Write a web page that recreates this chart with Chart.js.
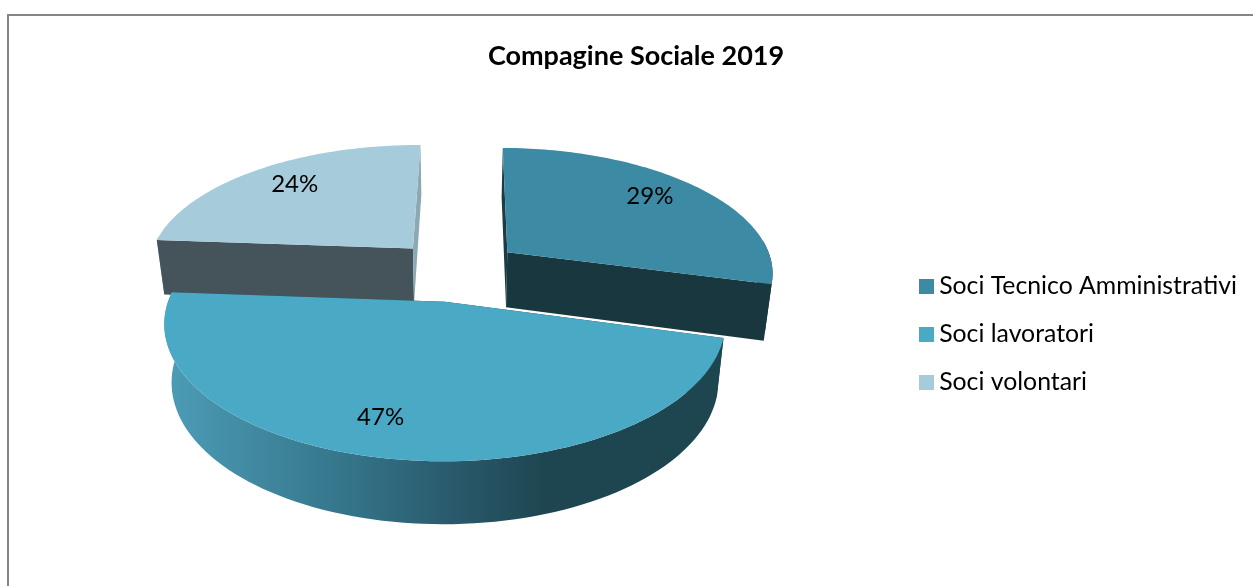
<!DOCTYPE html>
<html>
<head>
<meta charset="utf-8">
<title>Compagine Sociale 2019</title>
<script src="https://cdn.jsdelivr.net/npm/chart.js@4/dist/chart.umd.js"></script>
<style>
html, body { margin: 0; padding: 0; background: #fff; overflow: hidden; width: 1253px; height: 586px; }
#frame { position: absolute; left: 7px; top: 14px; width: 1300px; height: 600px; border-left: 2px solid #868686; border-top: 2px solid #868686; }
#mycanvas { position: absolute; left: 9px; top: 16px; }
</style>
</head>
<body>
<div id="frame"></div>
<canvas id="mycanvas" width="1254" height="570"></canvas>
<script>
var categories = ["Soci Tecnico Amministrativi", "Soci lavoratori", "Soci volontari"];
var values = [29, 47, 24];
var chartTitle = "Compagine Sociale 2019";

var topColors = ["#3c8aa4", "#4aa9c5", "#a6cbda"];
var wallColors = [["#1b3c46", "#18373f"], ["#1e4650", "#1e4650"], ["#45535b", "#8ba8b3"]];
var FONT = "Lato, 'Open Sans', sans-serif";

// little squares for the legend, the built in ones leave too wide a gap to the text
function swatch(color) {
	var c = document.createElement("canvas");
	c.width = 15;
	c.height = 15;
	var g = c.getContext("2d");
	g.fillStyle = color;
	g.fillRect(0, 0, 15, 15);
	return c;
}

// tilted, extruded pie: takes the arcs the doughnut controller laid out and
// projects them on to a plane seen from above
var pie3d = {
	id: "pie3d",
	beforeDatasetsDraw: function(chart, args, opts) {
		var ctx = chart.ctx;
		var arcs = chart.getDatasetMeta(0).data;

		function point(arc, angle, frac, z) {
			var r = arc.outerRadius;
			var mid = (arc.startAngle + arc.endAngle) / 2;
			var off = arc.options.offset;
			var u = (r * frac * Math.cos(angle) + off * Math.cos(mid)) / r;
			var v = (r * frac * Math.sin(angle) + off * Math.sin(mid)) / r;
			var s = 1 / (1 - opts.persp * v);
			var k = 1 - opts.shrink * z;
			return {
				x: arc.x + opts.slide + opts.rx * u * s * k,
				y: arc.y + opts.lift + opts.ry * v * s + z * opts.depth * (1 + opts.depthGrow * v)
			};
		}

		function rimPath(arc, from, to, z, reverse) {
			var n = 90;
			for (var i = 0; i <= n; i++) {
				var t = reverse ? 1 - i / n : i / n;
				var p = point(arc, from + (to - from) * t, 1, z);
				ctx.lineTo(p.x, p.y);
			}
		}

		function wall(arc, angle, color) {
			var a = point(arc, angle, 0, 0), b = point(arc, angle, 1, 0);
			var c = point(arc, angle, 1, 1), d = point(arc, angle, 0, 1);
			ctx.beginPath();
			ctx.moveTo(a.x, a.y);
			ctx.lineTo(b.x, b.y);
			ctx.lineTo(c.x, c.y);
			ctx.lineTo(d.x, d.y);
			ctx.closePath();
			ctx.fillStyle = color;
			ctx.fill();
		}

		// back slices first so the big front one sits over them
		var order = arcs.map(function(a, i) { return i; });
		order.sort(function(i, j) {
			return Math.sin((arcs[i].startAngle + arcs[i].endAngle) / 2) - Math.sin((arcs[j].startAngle + arcs[j].endAngle) / 2);
		});

		order.forEach(function(i) {
			var arc = arcs[i];

			// outer rim, only the part that faces the viewer, shaded left to right
			var from = Math.max(arc.startAngle, -0.1), to = Math.min(arc.endAngle, Math.PI + 0.1);
			if (to > from) {
				var left = point(arc, Math.PI, 1, 0).x, right = point(arc, 0, 1, 0).x;
				var grad = ctx.createLinearGradient(left, 0, right, 0);
				if (i === 1) {
					grad.addColorStop(0, "#4c9cb6");
					grad.addColorStop(0.33, "#347489");
					grad.addColorStop(0.52, "#29596b");
					grad.addColorStop(0.68, "#1e4651");
					grad.addColorStop(1, "#1e4650");
				} else {
					grad.addColorStop(0, wallColors[i][1]);
					grad.addColorStop(1, wallColors[i][1]);
				}
				var s = point(arc, from, 1, 0);
				ctx.beginPath();
				ctx.moveTo(s.x, s.y);
				rimPath(arc, from, to, 0, false);
				rimPath(arc, from, to, 1, true);
				ctx.closePath();
				ctx.fillStyle = grad;
				ctx.fill();
			}

			wall(arc, arc.startAngle, wallColors[i][0]);
			wall(arc, arc.endAngle, wallColors[i][1]);

			// top face
			var a = point(arc, arc.startAngle, 0, 0);
			ctx.beginPath();
			ctx.moveTo(a.x, a.y);
			rimPath(arc, arc.startAngle, arc.endAngle, 0, false);
			ctx.closePath();
			ctx.fillStyle = topColors[i];
			ctx.fill();
		});

		// percentage labels
		ctx.font = opts.labelSize + "px " + FONT;
		ctx.fillStyle = "#000";
		ctx.textAlign = "center";
		ctx.textBaseline = "middle";
		arcs.forEach(function(arc, i) {
			var mid = (arc.startAngle + arc.endAngle) / 2 + opts.labelTurn[i] * Math.PI / 180;
			var p = point(arc, mid, opts.labelRadius, 0);
			ctx.fillText(values[i] + "%", p.x, p.y);
		});
		return false;
	}
};

var chartdata = {
	labels: categories,
	datasets: [{
		data: values,
		backgroundColor: topColors,
		borderWidth: 0,
		offset: 52
	}]
};

var ctx = document.getElementById("mycanvas");

var myPieChart = new Chart(ctx, {
	type: "pie",
	data: chartdata,
	options: {
		responsive: false,
		animation: false,
		rotation: 0.5,
		layout: { padding: { left: 16, right: 16, top: 0, bottom: 14 } },
		plugins: {
			title: {
				display: true,
				text: chartTitle,
				color: "#000",
				font: { family: FONT, size: 27, weight: "bold" },
				padding: { top: 24.5, bottom: 23.9 }
			},
			legend: {
				position: "right",
				fullSize: false,
				labels: {
					color: "#000",
					font: { family: FONT, size: 24.8 },
					padding: 23.2,
					usePointStyle: true,
					boxHeight: 15,
					pointStyleWidth: 1,
					generateLabels: function(chart) {
						var items = Chart.overrides.doughnut.plugins.legend.labels.generateLabels(chart);
						items.forEach(function(item, i) {
							item.pointStyle = swatch(topColors[i]);
						});
						return items;
					}
				}
			},
			tooltip: { enabled: false },
			pie3d: {
				rx: 267,
				ry: 125,
				persp: 0.15,
				slide: -7.5,
				lift: -64,
				depth: 56,
				depthGrow: 0.1,
				shrink: 0.025,
				labelRadius: 0.78,
				labelSize: 24,
				labelTurn: [-2.4, 5.4, 2]
			}
		}
	},
	plugins: [pie3d]
});
</script>
</body>
</html>
